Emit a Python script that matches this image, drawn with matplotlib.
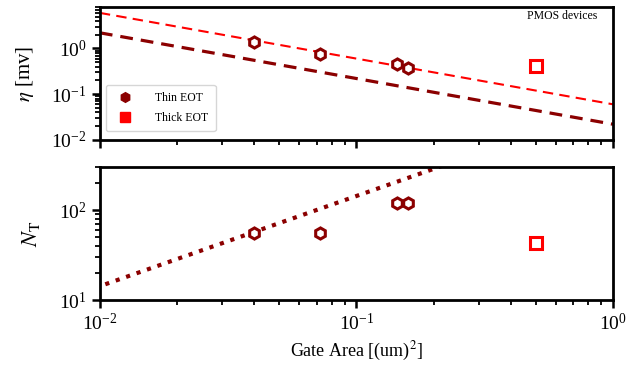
import numpy as np
import matplotlib
matplotlib.use("Agg")
import matplotlib.pyplot as plt
from matplotlib.lines import Line2D

plt.rcParams['font.family'] = ['Liberation Serif', 'DejaVu Serif']
plt.rcParams['mathtext.fontset'] = 'stix'

# data
area_thin = [0.04, 0.072, 0.144, 0.159]
eta_thin = [1.35, 0.75, 0.45, 0.37]
nt_thin = [55, 56, 120, 120]
area_thick = [0.5]
eta_thick = [0.42]
nt_thick = [43]

# fitted lines
fit_x = [0.01, 1.0]
eta_fit_thick = [6.0, 0.06]
eta_fit_thin = [2.2, 0.022]
nt_fit_x = [0.0105, 0.3]
nt_fit = [15.0, 430.0]

dark = '#8b0000'
red = '#ff0000'

fig = plt.figure(figsize=(6.28, 3.78), dpi=100)
ax1 = fig.add_axes([0.159, 0.630, 0.817, 0.351])
ax2 = fig.add_axes([0.159, 0.206, 0.817, 0.352])

ax1.plot(fit_x, eta_fit_thick, '--', color=red, lw=1.5, dashes=(5, 3))
ax1.plot(fit_x, eta_fit_thin, '--', color=dark, lw=2.3, dashes=(4, 2.5))
ax1.plot(area_thin, eta_thin, 'h', ms=8, mfc='white', mec=dark, mew=2.2, ls='none')
ax1.plot(area_thick, eta_thick, 's', ms=8, mfc='white', mec=red, mew=2.2, ls='none')

ax2.plot(nt_fit_x, nt_fit, ':', color=dark, lw=3)
ax2.plot(area_thin, nt_thin, 'h', ms=8, mfc='white', mec=dark, mew=2.2, ls='none')
ax2.plot(area_thick, nt_thick, 's', ms=8, mfc='white', mec=red, mew=2.2, ls='none')

for ax in (ax1, ax2):
    ax.set_xscale('log')
    ax.set_yscale('log')
    ax.set_xlim(1e-2, 1)
    for s in ax.spines.values():
        s.set_linewidth(2)
    ax.tick_params(which='major', direction='out', length=6, width=1.8, labelsize=14)
    ax.tick_params(which='minor', direction='out', length=3.5, width=1.3)

ax1.set_ylim(1e-2, 8)
ax2.set_ylim(10, 300)
ax1.tick_params(axis='x', which='both', labelbottom=False)

ax1.set_ylabel(r'$\eta$ [mv]', fontsize=15, labelpad=11)
ax2.set_ylabel(r'$N_\mathrm{T}$', fontsize=16, labelpad=12)
ax2.set_xlabel(r'Gate Area [(um)$^2$]', fontsize=13)

ax1.text(0.97, 0.93, 'PMOS devices', transform=ax1.transAxes, ha='right', va='center', fontsize=8.5)

handles = [Line2D([], [], marker='h', color=dark, ls='none', ms=7),
           Line2D([], [], marker='s', color=red, ls='none', ms=7)]
ax1.legend(handles, ['Thin EOT', 'Thick EOT'], loc='lower left', fontsize=8.5,
           fancybox=True, framealpha=0.8, edgecolor='#cccccc',
           handletextpad=1.6, borderpad=0.6, labelspacing=0.7,
           bbox_to_anchor=(0.0, 0.02))

fig.savefig('out.png', dpi=100)
